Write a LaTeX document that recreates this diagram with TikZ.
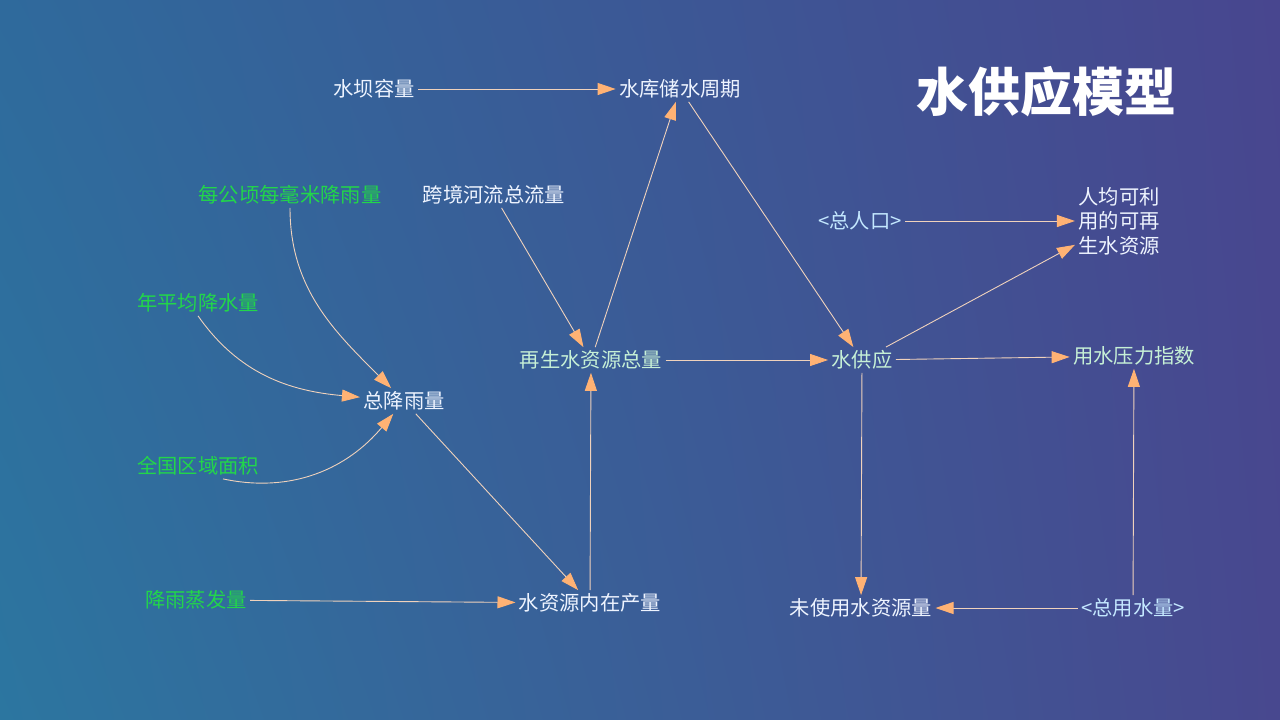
\documentclass[tikz,border=0pt]{standalone}
\usepackage{fontspec}
\usepackage{xcolor}
\usepackage{tikz}
\usetikzlibrary{arrows.meta,shadings}
\newfontfamily\cjk{Noto Sans CJK SC}
\definecolor{bgtl}{HTML}{2F6A9C}
\definecolor{bgtr}{HTML}{48468F}
\definecolor{bgbl}{HTML}{2C76A0}
\definecolor{bgbr}{HTML}{48488F}
\definecolor{linec}{HTML}{F0D2BC}
\definecolor{tipc}{HTML}{FFB274}
\definecolor{textw}{HTML}{EEF4FF}
\definecolor{textm}{HTML}{C6F0D6}
\definecolor{textc}{HTML}{C4E8FF}
\definecolor{textg}{HTML}{22D64A}

\begin{document}
\begin{tikzpicture}[x=1pt,y=-1pt,
    var/.style={font=\cjk\fontsize{20.3}{24.5}\selectfont,text=textw,inner sep=3pt,align=left},
    ext/.style={var,text=textg},
    key/.style={var,text=textm},
    shadow/.style={var,text=textc},
    >={Triangle[length=18pt,width=12pt,color=tipc]},
    every path/.append style={line width=0.9pt}]
    \shade[upper left=bgtl,upper right=bgtr,lower left=bgbl,lower right=bgbr,draw=none]
      (0,0) rectangle (1280,720);
    \useasboundingbox (0,0) rectangle (1280,720);
    \node[font=\cjk\bfseries\fontsize{52}{60}\selectfont,text=white] (title) at (1046,92) {水供应模型};

    \node[var] (dam) at (374,89) {水坝容量};
    \node[var] (period) at (680,89) {水库储水周期};
    \node[ext] (mmha) at (290,195) {每公顷每毫米降雨量};
    \node[var] (cross) at (494,195) {跨境河流总流量};
    \node[ext] (annual) at (198,303) {年平均降水量};
    \node[var] (rain) at (404,401) {总降雨量};
    \node[ext] (area) at (198,466) {全国区域面积};
    \node[ext] (evap) at (196,600) {降雨蒸发量};
    \node[var] (inner) at (590,603) {水资源内在产量};
    \node[key] (renew) at (591,360) {再生水资源总量};
    \node[key] (supply) at (862,360) {水供应};
    \node[shadow] (pop) at (860,221) {<总人口>};
    \node[var] (percap) at (1119,221) {人均可利\\用的可再\\生水资源};
    \node[key] (stress) at (1134,356) {用水压力指数};
    \node[var] (unused) at (861,608) {未使用水资源量};
    \node[shadow] (use) at (1133,608) {<总用水量>};

    \draw[->,linec] (dam) to (period);
    \draw[->,linec] (renew) to (period);
    \draw[->,linec] (period) to (supply);
    \draw[->,linec] (cross) to (renew);
    \draw[->,linec] (mmha.south) to[out=-90,in=135] (rain);
    \draw[->,linec] (annual.south) to[out=-55,in=175] (rain);
    \draw[->,linec] ([xshift=25pt]area.south) to[out=-12,in=-130] (rain);
    \draw[->,linec] (rain) to (inner);
    \draw[->,linec] (evap) to (inner);
    \draw[->,linec] (inner) to (renew);
    \draw[->,linec] (renew) to (supply);
    \draw[->,linec] (supply) to (stress);
    \draw[->,linec] (supply) to (percap);
    \draw[->,linec] (pop) to (percap.west);
    \draw[->,linec] (supply) to (unused);
    \draw[->,linec] (use) to (unused);
    \draw[->,linec] (use) to (stress);
  \end{tikzpicture}
\end{document}
